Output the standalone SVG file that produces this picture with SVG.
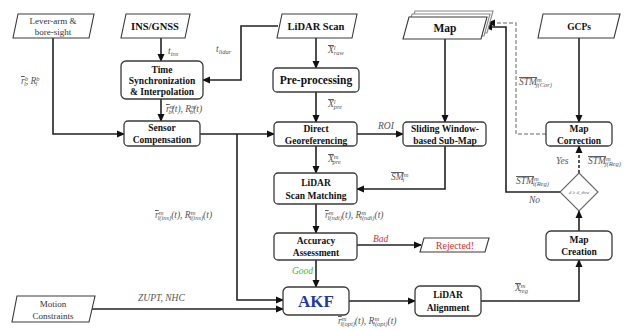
<svg xmlns="http://www.w3.org/2000/svg" width="633" height="330" viewBox="0 0 633 330">
<style>
.box{fill:#fff;stroke:#3a3a3a;stroke-width:1.3}
.pg{fill:#fff;stroke:#3a3a3a;stroke-width:1.1}
.t{font-family:"Liberation Serif",serif;font-weight:bold;font-size:9.5px;fill:#111;text-anchor:middle}
.r{font-family:"Liberation Serif",serif;font-size:9px;fill:#333;text-anchor:middle}
.m{font-family:"Liberation Serif",serif;font-style:italic;font-size:9.5px;fill:#555}
.s{font-size:6.5px}
.ov{text-decoration:overline}
.ln{fill:none;stroke:#222;stroke-width:1.6}
.dash{fill:none;stroke:#999;stroke-width:1.5;stroke-dasharray:4 2}
.dashk{fill:none;stroke:#222;stroke-width:1.5;stroke-dasharray:3 2}
</style>
<defs>
<marker id="a" markerWidth="8" markerHeight="8" refX="7" refY="4" orient="auto" markerUnits="userSpaceOnUse">
<path d="M0,0.5 L8,4 L0,7.5 Z" fill="#111"/>
</marker>
</defs>
<rect width="633" height="330" fill="#fff"/>

<g id="connectors">
<path class="ln" d="M161,38 V61" marker-end="url(#a)"/>
<path class="ln" d="M278,26 H241 V80 H203" marker-end="url(#a)"/>
<path class="ln" d="M161,99 V121" marker-end="url(#a)"/>
<path class="ln" d="M53,38 V134 H124" marker-end="url(#a)"/>
<path class="ln" d="M200,134 H274" marker-end="url(#a)"/>
<path class="ln" d="M237,134 V300 H283" marker-end="url(#a)"/>
<path class="ln" d="M92,309 H283" marker-end="url(#a)"/>
<path class="ln" d="M316,38 V68" marker-end="url(#a)"/>
<path class="ln" d="M316,92 V122" marker-end="url(#a)"/>
<path class="ln" d="M316,146 V173" marker-end="url(#a)"/>
<path class="ln" d="M357,134 H403" marker-end="url(#a)"/>
<path class="ln" d="M445,38 V122" marker-end="url(#a)"/>
<path class="ln" d="M445,146 V189 H357" marker-end="url(#a)"/>
<path class="ln" d="M316,204 V233" marker-end="url(#a)"/>
<path class="ln" d="M357,245 H421" marker-end="url(#a)"/>
<path class="ln" d="M316,260 V287" marker-end="url(#a)"/>
<path class="ln" d="M349,301 H415" marker-end="url(#a)"/>
<path class="ln" d="M481,301 H579 V260" marker-end="url(#a)"/>
<path class="ln" d="M579,231 V211" marker-end="url(#a)"/>
<path class="dashk" d="M579,173 V146" marker-end="url(#a)"/>
<path class="ln" d="M560,192 H506 V27 H485" marker-end="url(#a)"/>
<path class="dash" d="M546,134 H516 V23 H488" marker-end="url(#a)"/>
<path class="ln" d="M579,38 V122" marker-end="url(#a)"/>

<text class="m" x="168" y="54">t<tspan class="s" dy="2">ins</tspan></text>
<text class="m" x="216" y="52">t<tspan class="s" dy="2">lidar</tspan></text>
<text class="m" x="166" y="112"><tspan class="ov">r</tspan><tspan class="s" dy="-3">m</tspan><tspan class="s" dx="-6" dy="5">b</tspan><tspan dy="-2">(t), R</tspan><tspan class="s" dy="-3">m</tspan><tspan class="s" dx="-6" dy="5">b</tspan><tspan dy="-2">(t)</tspan></text>
<text class="m" x="21" y="84"><tspan class="ov">r</tspan><tspan class="s" dy="-3">b</tspan><tspan class="s" dx="-4" dy="5">l</tspan><tspan dy="-2">, R</tspan><tspan class="s" dy="-3">b</tspan><tspan class="s" dx="-4" dy="5">l</tspan></text>
<text class="m" x="155" y="218"><tspan class="ov">r</tspan><tspan class="s" dy="-3">m</tspan><tspan class="s" dx="-6" dy="5">l(ins)</tspan><tspan dy="-2">(t), R</tspan><tspan class="s" dy="-3">m</tspan><tspan class="s" dx="-6" dy="5">l(ins)</tspan><tspan dy="-2">(t)</tspan></text>
<text class="m" x="138" y="301">ZUPT, NHC</text>
<text class="m" x="328" y="53"><tspan class="ov">X</tspan><tspan class="s" dy="-3">l</tspan><tspan class="s" dx="-2" dy="5">raw</tspan></text>
<text class="m" x="328" y="107"><tspan class="ov">X</tspan><tspan class="s" dy="-3">l</tspan><tspan class="s" dx="-2" dy="5">pre</tspan></text>
<text class="m" x="328" y="162"><tspan class="ov">X</tspan><tspan class="s" dy="-3">m</tspan><tspan class="s" dx="-6" dy="5">pre</tspan></text>
<text class="m" x="378" y="129">ROI</text>
<text class="m" x="391" y="180"><tspan class="ov">SM</tspan><tspan class="s" dy="-3">m</tspan><tspan class="s" dx="-6" dy="5">i</tspan></text>
<text class="m" x="325" y="218"><tspan class="ov">r</tspan><tspan class="s" dy="-3">m</tspan><tspan class="s" dx="-6" dy="5">l(ndt)</tspan><tspan dy="-2">(t), R</tspan><tspan class="s" dy="-3">m</tspan><tspan class="s" dx="-6" dy="5">l(ndt)</tspan><tspan dy="-2">(t)</tspan></text>
<text class="m" x="373" y="242" style="fill:#d03030">Bad</text>
<text class="m" x="292" y="274" style="fill:#33c033">Good</text>
<text class="m" x="338" y="324"><tspan class="ov">r</tspan><tspan class="s" dy="-3">m</tspan><tspan class="s" dx="-6" dy="5">l(opt)</tspan><tspan dy="-2">(t), R</tspan><tspan class="s" dy="-3">m</tspan><tspan class="s" dx="-6" dy="5">l(opt)</tspan><tspan dy="-2">(t)</tspan></text>
<text class="m" x="515" y="291"><tspan class="ov">X</tspan><tspan class="s" dy="-3">m</tspan><tspan class="s" dx="-6" dy="5">reg</tspan></text>
<text class="m" x="556" y="164">Yes</text>
<text class="m" x="588" y="164"><tspan class="ov">STM</tspan><tspan class="s" dy="-3">m</tspan><tspan class="s" dx="-6" dy="5">j(Reg)</tspan></text>
<text class="m" x="516" y="184"><tspan class="ov">STM</tspan><tspan class="s" dy="-3">m</tspan><tspan class="s" dx="-6" dy="5">i(Reg)</tspan></text>
<text class="m" x="529" y="203">No</text>
<text class="m" x="519" y="85"><tspan class="ov">STM</tspan><tspan class="s" dy="-3">m</tspan><tspan class="s" dx="-6" dy="5">j(Cor)</tspan></text>
</g>

<g id="lever-arm">
<polygon class="pg" points="18,14 94,14 89,38 13,38"/>
<text class="r" x="53" y="24">Lever-arm &amp;</text>
<text class="r" x="53" y="35">bore-sight</text>
</g>
<g id="ins-gnss">
<polygon class="pg" points="126,14 190,14 185,38 121,38"/>
<text class="t" x="155" y="30" style="font-size:10.5px">INS/GNSS</text>
</g>
<g id="time-sync">
<rect class="box" x="121" y="61" width="82" height="38" rx="5"/>
<text class="t" x="162" y="73">Time</text>
<text class="t" x="162" y="84">Synchronization</text>
<text class="t" x="162" y="95">&amp; Interpolation</text>
</g>
<g id="sensor-comp">
<rect class="box" x="124" y="121" width="76" height="25" rx="4"/>
<text class="t" x="162" y="131">Sensor</text>
<text class="t" x="162" y="143">Compensation</text>
</g>
<g id="lidar-scan">
<polygon class="pg" points="282,14 357,14 352,38 277,38"/>
<text class="t" x="316" y="30" style="font-size:10.5px">LiDAR Scan</text>
</g>
<g id="pre-processing">
<rect class="box" x="273" y="68" width="86" height="24" rx="4"/>
<text class="t" x="316" y="84" style="font-size:11.5px">Pre-processing</text>
</g>
<g id="direct-georef">
<rect class="box" x="274" y="122" width="83" height="24" rx="4"/>
<text class="t" x="316" y="132">Direct</text>
<text class="t" x="316" y="144">Georeferencing</text>
</g>
<g id="map">
<polygon class="pg" points="415,11 493,11 487,33 409,33" style="stroke:#888"/>
<polygon class="pg" points="412,14 490,14 484,36 406,36" style="stroke:#888"/>
<polygon class="pg" points="409,17 487,17 481,39 403,39"/>
<text class="t" x="445" y="32" style="font-size:11.5px">Map</text>
</g>
<g id="sliding-window">
<rect class="box" x="403" y="122" width="83" height="24" rx="4"/>
<text class="t" x="445" y="132">Sliding Window-</text>
<text class="t" x="445" y="144">based Sub-Map</text>
</g>
<g id="gcps">
<polygon class="pg" points="543,14 620,14 614,38 538,38"/>
<text class="t" x="579" y="30">GCPs</text>
</g>
<g id="map-correction">
<rect class="box" x="546" y="122" width="66" height="24" rx="4"/>
<text class="t" x="579" y="132">Map</text>
<text class="t" x="579" y="144">Correction</text>
</g>
<g id="threshold">
<polygon class="pg" points="579,173 598,192 579,211 560,192" style="stroke:#666"/>
<text x="579" y="194" style="font-family:'Liberation Serif',serif;font-style:italic;font-size:5px;fill:#666;text-anchor:middle">d ≥ d_thre</text>
</g>
<g id="lidar-scan-matching">
<rect class="box" x="274" y="173" width="83" height="31" rx="4"/>
<text class="t" x="316" y="186">LiDAR</text>
<text class="t" x="316" y="199">Scan Matching</text>
</g>
<g id="accuracy">
<rect class="box" x="274" y="233" width="83" height="27" rx="4"/>
<text class="t" x="316" y="244">Accuracy</text>
<text class="t" x="316" y="256">Assessment</text>
</g>
<g id="rejected">
<polygon class="pg" points="424,238 489,238 485,252 420,252"/>
<text x="455" y="249" style="font-family:'Liberation Serif',serif;font-size:10px;fill:#d63030;text-anchor:middle">Rejected!</text>
</g>
<g id="akf">
<rect class="box" x="283" y="287" width="66" height="28" rx="5"/>
<text class="t" x="316" y="307" style="font-size:17px;fill:#1f3aa0">AKF</text>
</g>
<g id="lidar-alignment">
<rect class="box" x="415" y="286" width="66" height="30" rx="5"/>
<text class="t" x="448" y="298">LiDAR</text>
<text class="t" x="448" y="311">Alignment</text>
</g>
<g id="map-creation">
<rect class="box" x="546" y="231" width="66" height="29" rx="5"/>
<text class="t" x="579" y="243">Map</text>
<text class="t" x="579" y="255">Creation</text>
</g>
<g id="motion-constraints">
<polygon class="pg" points="17,296 95,296 89,322 12,322"/>
<text class="r" x="53" y="307">Motion</text>
<text class="r" x="53" y="319">Constraints</text>
</g>
</svg>
